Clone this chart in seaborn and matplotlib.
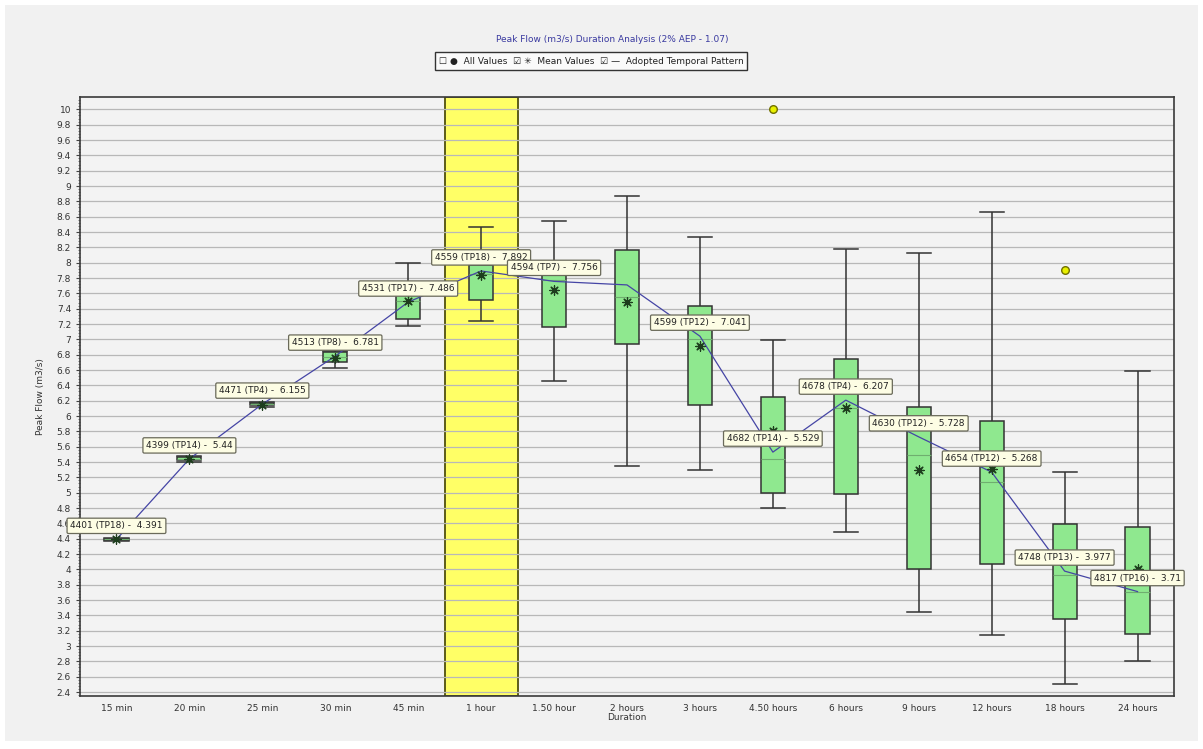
import matplotlib
matplotlib.use("Agg")
import matplotlib.pyplot as plt
from matplotlib.ticker import MultipleLocator, FuncFormatter
from matplotlib.patches import Rectangle
import numpy as np
import pandas as pd
import seaborn as sns

# Categories
durations = ['15 min', '20 min', '25 min', '30 min', '45 min', '1 hour', '1.50 hour', '2 hours',
             '3 hours', '4.50 hours', '6 hours', '9 hours', '12 hours', '18 hours', '24 hours']

# Box statistics
whisker_low = [4.375, 5.40, 6.12, 6.62, 7.18, 7.24, 6.46, 5.35, 5.30, 4.80, 4.49, 3.45, 3.14, 2.51, 2.80]
quart_1     = [4.385, 5.42, 6.14, 6.71, 7.26, 7.51, 7.16, 6.94, 6.15, 5.00, 4.98, 4.00, 4.07, 3.35, 3.16]
median      = [4.390, 5.44, 6.155, 6.77, 7.50, 7.85, 7.78, 7.55, 7.00, 5.44, 6.10, 5.49, 5.14, 3.92, 3.70]
quart_3     = [4.400, 5.46, 6.17, 6.84, 7.75, 7.97, 7.93, 8.16, 7.43, 6.25, 6.74, 6.12, 5.94, 4.59, 4.55]
whisker_high = [4.410, 5.48, 6.18, 6.85, 8.00, 8.47, 8.55, 8.87, 8.34, 6.99, 8.18, 8.13, 8.66, 5.27, 6.59]

mean_values = [4.39, 5.44, 6.15, 6.76, 7.50, 7.84, 7.64, 7.49, 6.91, 5.81, 6.11, 5.29, 5.31, 4.12, 4.00]

# Outliers ("All Values" shown outside whiskers)
outlier_dur = ['4.50 hours', '18 hours']
outlier_val = [10.0, 7.90]

# Adopted temporal pattern
adopted_val = [4.391, 5.44, 6.155, 6.781, 7.486, 7.892, 7.756, 7.71, 7.041, 5.529, 6.207, 5.728, 5.268, 3.977, 3.71]
adopted_lbl = ['4401 (TP18) -  4.391', '4399 (TP14) -  5.44', '4471 (TP4) -  6.155', '4513 (TP8) -  6.781',
               '4531 (TP17) -  7.486', '4559 (TP18) -  7.892', '4594 (TP7) -  7.756', None,
               '4599 (TP12) -  7.041', '4682 (TP14) -  5.529', '4678 (TP4) -  6.207', '4630 (TP12) -  5.728',
               '4654 (TP12) -  5.268', '4748 (TP13) -  3.977', '4817 (TP16) -  3.71']

highlight = '1 hour'

# five-number data per duration so the boxplot reproduces the stats exactly
rows = []
for i, d in enumerate(durations):
    for v in (whisker_low[i], quart_1[i], median[i], quart_3[i], whisker_high[i]):
        rows.append((d, v))
df_box = pd.DataFrame(rows, columns=['Duration', 'Peak Flow'])
df_mean = pd.DataFrame({'Duration': durations, 'Peak Flow': mean_values})
df_adopt = pd.DataFrame({'Duration': durations, 'Peak Flow': adopted_val})
df_out = pd.DataFrame({'Duration': outlier_dur, 'Peak Flow': outlier_val})

fig = plt.figure(figsize=(12.03, 7.49), dpi=100, facecolor='white')
# grey panel behind the chart
fig.patches.append(Rectangle((5 / 1203, 8 / 749), 1193 / 1203, 736 / 749, transform=fig.transFigure,
                             facecolor='#f1f1f1', edgecolor='none', zorder=-1))
ax = fig.add_axes([80 / 1203, 1 - 696 / 749, (1174 - 80) / 1203, (696 - 97.3) / 749])
ax.set_facecolor('#f3f3f3')

box_w = 0.33
sns.boxplot(data=df_box, x='Duration', y='Peak Flow', order=durations, whis=(0, 100),
            width=box_w, color='#8fe88f', saturation=1, linecolor='#333333', linewidth=1.1,
            fliersize=0, medianprops=dict(color='#6fae6f', linewidth=0.8), ax=ax, zorder=2)

# caps as wide as the boxes
for ln in ax.lines:
    xd, yd = ln.get_xdata(), ln.get_ydata()
    if len(xd) == 2 and yd[0] == yd[1] and abs(xd[1] - xd[0]) > 0.01:
        c = (xd[0] + xd[1]) / 2
        ln.set_xdata([c - box_w / 2, c + box_w / 2])

# highlighted duration
hi = durations.index(highlight)
ax.axvspan(hi - 0.5, hi + 0.5, facecolor='#ffff66', edgecolor='#5c5c1a', linewidth=1.4, zorder=0.3)

sns.lineplot(data=df_adopt, x='Duration', y='Peak Flow', color='#4545a5', linewidth=0.9,
             ax=ax, zorder=4, sort=False)
sns.scatterplot(data=df_mean, x='Duration', y='Peak Flow', marker=(8, 2, 0), s=45,
                color='#1d3d1d', linewidth=0.9, ax=ax, zorder=5)
sns.scatterplot(data=df_out, x='Duration', y='Peak Flow', marker='o', s=30,
                color='#e8f000', edgecolor='#707000', linewidth=1.0, ax=ax, zorder=5)

for i, lbl in enumerate(adopted_lbl):
    if lbl is None:
        continue
    ax.annotate(lbl, xy=(i, adopted_val[i]), xytext=(0, 6.5), textcoords='offset points',
                ha='center', va='bottom', fontsize=6.5, color='#222222', zorder=6,
                bbox=dict(boxstyle='round,pad=0.35,rounding_size=0.15', facecolor='#fdfde4',
                          edgecolor='#6a6a5a', linewidth=0.9))

ax.set_xlim(-0.5, 14.5)
ax.set_ylim(2.348, 10.157)
ax.yaxis.set_major_locator(MultipleLocator(0.2))
ax.yaxis.set_minor_locator(MultipleLocator(0.04))
ax.yaxis.set_major_formatter(FuncFormatter(lambda v, p: '%g' % round(v, 1)))
ax.grid(axis='y', which='major', color='#b8b8b8', linewidth=0.9)
ax.set_axisbelow(True)
ax.tick_params(axis='y', which='major', labelsize=6.5, length=3, color='#444444', labelcolor='#333333')
ax.tick_params(axis='y', which='minor', length=1.5, color='#666666')
ax.tick_params(axis='x', length=0, labelsize=6.5, labelcolor='#333333', pad=6)
for sp in ax.spines.values():
    sp.set_color('#3a3a3a')
    sp.set_linewidth(1.2)

ax.set_xlabel('Duration', fontsize=6.5, color='#333333', labelpad=0)
ax.set_ylabel('Peak Flow (m3/s)', fontsize=6.5, color='#333333', labelpad=8)

fig.text(612 / 1203, 1 - 40 / 749, 'Peak Flow (m3/s) Duration Analysis (2% AEP - 1.07)',
         ha='center', va='center', fontsize=6.5, color='#3a3aa0')
fig.text(591 / 1203, 1 - 61 / 749,
         '\u2610 \u25cf  All Values  \u2611 \u2733  Mean Values  \u2611 \u2014  Adopted Temporal Pattern',
         ha='center', va='center', fontsize=6.5, color='#222222',
         bbox=dict(boxstyle='square,pad=0.45', facecolor='#fafafa', edgecolor='#333333', linewidth=1.0))

fig.savefig('out.png', dpi=100, facecolor='white')
